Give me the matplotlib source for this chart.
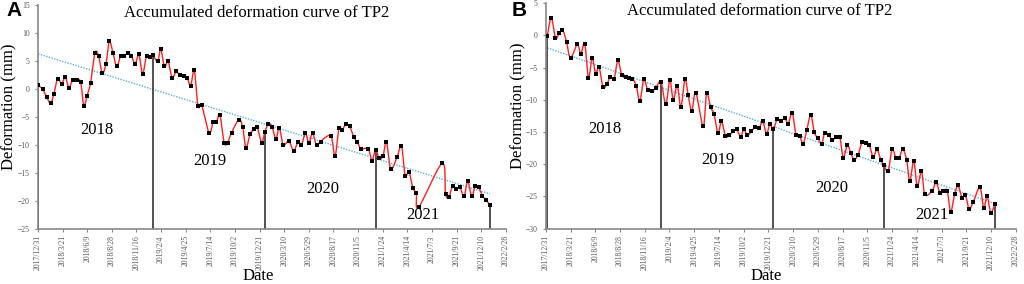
import matplotlib
import matplotlib.pyplot as plt
import numpy as np
import pandas as pd

matplotlib.use("Agg")

plt.rcParams["font.family"] = ["Liberation Serif", "DejaVu Serif"]

# ---- data (day offsets from 2017/12/31, deformation in mm) ----
base_date = "2017-12-31"
tick_step = 80
n_ticks = 20

days_a = [1, 15, 28, 41, 52, 64, 77, 89, 101, 113,
          126, 139, 149, 160, 171, 185, 197, 209, 221, 232,
          244, 256, 269, 280, 292, 304, 316, 328, 340, 353,
          364, 373, 389, 399, 411, 423, 436, 449, 461, 474,
          485, 496, 508, 520, 532, 556, 569, 580, 591, 605,
          616, 629, 653, 665, 676, 689, 702, 712, 727, 737,
          749, 761, 773, 784, 797, 815, 831, 845, 856, 869,
          880, 892, 905, 918, 951, 965, 978, 988, 1000, 1013,
          1026, 1038, 1049, 1073, 1085, 1097, 1108, 1121, 1132, 1146,
          1167, 1181, 1193, 1205, 1218, 1229, 1237, 1313, 1324, 1335,
          1347, 1358, 1371, 1384, 1396, 1409, 1421, 1432, 1444, 1455,
          1468]
defo_a = [0.6, -0.05, -1.4, -2.6, -0.9, 1.8, 0.9, 2.1, 0.2, 1.6,
          1.6, 1.2, -3.0, -1.2, 1.0, 6.4, 5.9, 2.8, 4.4, 8.5,
          6.4, 4.0, 5.9, 5.9, 6.4, 5.9, 4.4, 6.2, 2.7, 5.9,
          5.6, 6.0, 4.9, 7.1, 4.0, 4.9, 2.0, 3.1, 2.4, 2.3,
          2.0, 0.5, 3.3, -3.1, -2.9, -7.9, -6.0, -6.0, -4.6, -9.6,
          -9.6, -7.8, -5.5, -6.8, -10.5, -8.1, -7.2, -6.8, -9.6, -7.7,
          -6.25, -6.8, -9.0, -6.9, -10.0, -9.3, -11.1, -9.4, -10.0, -7.9,
          -9.7, -7.9, -10.1, -9.4, -8.4, -12.0, -7.0, -7.4, -6.3, -6.7,
          -8.6, -9.5, -10.7, -10.7, -12.8, -10.9, -12.4, -12.0, -9.4, -14.3,
          -12.1, -10.2, -15.5, -14.8, -17.7, -18.6, -21.1, -13.3, -18.75, -19.3,
          -17.3, -17.9, -17.6, -19.2, -16.5, -19.2, -17.3, -17.6, -19.1, -19.8,
          -20.7]
year_marks_a = [1, 373, 737, 1097, 1468]

days_b = [5, 18, 31, 43, 54, 67, 80, 102, 113, 126,
          138, 150, 161, 172, 185, 197, 209, 221, 233, 246,
          258, 268, 280, 293, 304, 317, 329, 342, 355, 372,
          388, 401, 412, 425, 437, 450, 460, 472, 485, 509,
          520, 533, 544, 557, 568, 581, 593, 606, 617, 630,
          640, 652, 665, 678, 690, 701, 714, 724, 736, 748,
          760, 773, 784, 797, 809, 821, 832, 844, 857, 868,
          879, 892, 902, 915, 927, 940, 951, 962, 975, 986,
          997, 1010, 1023, 1035, 1046, 1059, 1071, 1083, 1094, 1107,
          1120, 1132, 1143, 1154, 1167, 1177, 1190, 1201, 1215, 1226,
          1250, 1262, 1274, 1285, 1298, 1309, 1322, 1333, 1346, 1357,
          1369, 1382, 1404, 1416, 1427, 1439, 1452]
defo_b = [-0.03, 2.7, -0.4, 0.3, 0.9, -1.0, -3.5, -1.4, -2.9, -1.3,
          -6.6, -3.5, -6.0, -4.9, -8.0, -7.6, -6.4, -6.7, -3.9, -6.2,
          -6.5, -6.6, -6.7, -7.9, -10.2, -6.8, -8.5, -8.6, -8.25, -7.2,
          -10.7, -6.95, -10.0, -7.8, -11.1, -6.8, -9.25, -11.75, -8.9, -14.1,
          -9.0, -11.2, -12.2, -15.2, -13.3, -15.65, -15.5, -14.9, -14.6, -15.75,
          -14.6, -15.5, -14.9, -14.2, -14.45, -13.3, -15.3, -13.8, -14.6, -13.05,
          -13.3, -12.9, -13.7, -12.0, -15.4, -15.55, -16.85, -14.7, -12.3, -15.0,
          -15.9, -16.85, -15.1, -15.5, -16.2, -15.8, -15.8, -19.0, -17.0, -18.25,
          -19.3, -18.5, -16.6, -16.7, -17.0, -18.9, -17.7, -19.3, -20.2, -21.1,
          -17.7, -19.0, -19.0, -17.7, -19.3, -22.65, -19.5, -23.4, -21.1, -24.7,
          -24.1, -22.8, -24.4, -24.2, -24.1, -27.4, -24.7, -23.3, -25.2, -24.8,
          -27.0, -25.9, -23.6, -26.8, -25.0, -27.5, -26.2]
year_marks_b = [5, 372, 736, 1094, 1452]

year_labels = ["2018", "2019", "2020", "2021"]
title = "Accumulated deformation curve of TP2"


def smooth(x, y, n=12):
    """Catmull-Rom curve through the points (like Excel's smoothed line)."""
    pts = np.column_stack([x, y]).astype(float)
    p = np.vstack([pts[0], pts, pts[-1]])
    t = np.linspace(0, 1, n, endpoint=False)[:, None]
    segs = []
    for i in range(1, len(p) - 2):
        p0, p1, p2, p3 = p[i - 1], p[i], p[i + 1], p[i + 2]
        segs.append(0.5 * (2 * p1 + (-p0 + p2) * t
                           + (2 * p0 - 5 * p1 + 4 * p2 - p3) * t ** 2
                           + (-p0 + 3 * p1 - 3 * p2 + p3) * t ** 3))
    segs.append(pts[-1:])
    out = np.vstack(segs)
    return out[:, 0], out[:, 1]


def draw_panel(ax, days, defo, marks, ylim, ystep, title_x, ylab_x):
    days = np.asarray(days)
    defo = np.asarray(defo)
    sx, sy = smooth(days, defo)
    ax.plot(sx, sy, color="#ff2020", lw=1.0, zorder=3)
    ax.plot(days, defo, ls="none", marker="s", ms=2.6, mew=0,
            color="black", zorder=4)

    # linear trend
    k, b = np.polyfit(days, defo, 1)
    tx = np.array([days[0], days[-1]])
    ax.plot(tx, k * tx + b, ls=(0, (1, 1)), color="#5aaee0", lw=1.0, zorder=2)

    # year boundary lines
    for m in marks:
        v = defo[list(days).index(m)]
        ax.vlines(m, ylim[0], v, color="#333333", lw=1.2, zorder=2)

    pos = [(0.125, 0.44), (0.367, 0.304), (0.609, 0.18), (0.822, 0.06)]
    for lab, (px, py) in zip(year_labels, pos):
        ax.text(px, py, lab, transform=ax.transAxes, ha="center",
                va="center", fontsize=12)

    ticks = np.arange(n_ticks) * tick_step
    dates = pd.Timestamp(base_date) + pd.to_timedelta(ticks, unit="D")
    ax.set_xticks(ticks)
    ax.set_xticklabels([f"{d.year}/{d.month}/{d.day}" for d in dates],
                       rotation=90, fontsize=5.5, color="#555555")
    ax.set_xlim(0, ticks[-1])
    ax.set_ylim(*ylim)
    ax.set_yticks(np.arange(ylim[0], ylim[1] + 1, ystep))
    ax.tick_params(axis="y", labelsize=5.5, labelcolor="#555555",
                   length=2.5, color="#888888", width=0.8)
    ax.tick_params(axis="x", length=2.5, color="#888888", width=0.8, pad=2)
    for s in ["top", "right"]:
        ax.spines[s].set_visible(False)
    for s in ["left", "bottom"]:
        ax.spines[s].set_color("#888888")
        ax.spines[s].set_linewidth(1.2)

    ax.text(0.47, -0.21, "Date", transform=ax.transAxes, fontsize=12,
            ha="center", va="center")
    ax.text(ylab_x, 0.545, "Deformation (mm)", transform=ax.transAxes,
            fontsize=12, rotation=90, ha="center", va="center")
    ax.text(title_x, 0.965, title, transform=ax.transAxes, fontsize=12,
            ha="center", va="center")


fig = plt.figure(figsize=(10.24, 2.84), dpi=100)
ax_a = fig.add_axes([0.037, 0.194, 0.457, 0.789])
ax_b = fig.add_axes([0.533, 0.195, 0.459, 0.794])

draw_panel(ax_a, days_a, defo_a, year_marks_a, (-25, 15), 5, 0.468, -0.060)
draw_panel(ax_b, days_b, defo_b, year_marks_b, (-30, 5), 5, 0.455, -0.058)

for letter, lx in [("A", 14), ("B", 519)]:
    fig.text(lx / 1024, 1 - 11 / 284, letter, fontsize=15, fontweight="bold",
             family="Liberation Sans", ha="center", va="center")

fig.savefig("out.png", dpi=100)
plt.close(fig)
